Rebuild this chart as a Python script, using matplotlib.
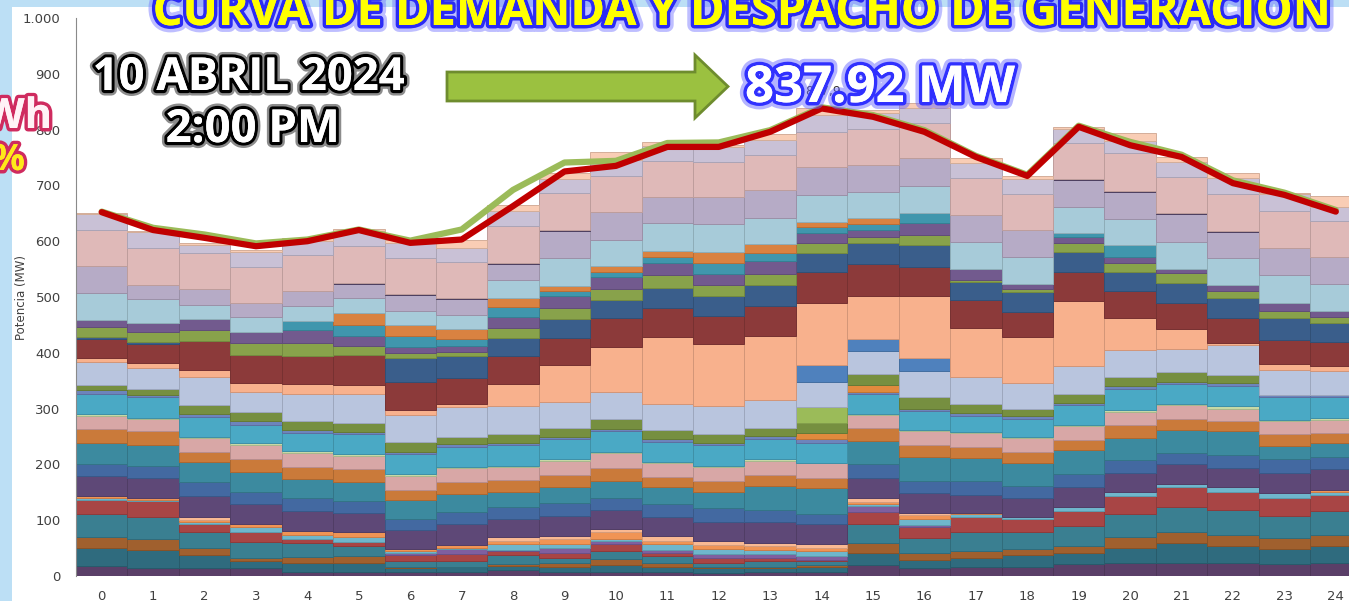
import matplotlib
matplotlib.use("Agg")
import matplotlib.pyplot as plt
import matplotlib.patheffects as pe
from matplotlib.colors import to_rgb
from matplotlib.patches import Rectangle, Polygon
from matplotlib.ticker import FuncFormatter
import numpy as np

# horas del dia (0-24)
horas = list(range(25))

# despacho por capa, de abajo hacia arriba (MW)
morado_base = [18, 14, 15, 15, 8, 8, 8, 8, 10, 8, 8, 8, 6, 8, 8, 20, 14, 17, 17, 21, 23, 23, 23, 21, 23]
verde_azul_osc = [32, 33, 23, 12, 15, 16, 6, 9, 8, 9, 12, 9, 8, 7, 9, 21, 15, 15, 21, 21, 28, 36, 31, 27, 31]
cafe = [20, 19, 13, 5, 11, 12, 3, 0, 3, 7, 10, 6, 2, 2, 2, 18, 12, 12, 10, 12, 18, 20, 19, 20, 19]
verde_azul = [42, 39, 27, 29, 25, 18, 10, 9, 17, 9, 15, 13, 7, 9, 7, 34, 27, 35, 30, 36, 43, 44, 46, 40, 44]
rojo = [25, 29, 16, 18, 7, 7, 11, 13, 6, 8, 12, 6, 9, 6, 3, 22, 19, 26, 24, 26, 32, 36, 32, 32, 29]
lila = [0, 0, 0, 0, 0, 0, 3, 9, 3, 9, 5, 5, 7, 7, 7, 10, 5, 0, 0, 0, 0, 0, 0, 0, 0]
celeste = [3, 3, 3, 8, 7, 9, 4, 2, 10, 7, 4, 10, 9, 8, 8, 4, 10, 6, 4, 8, 7, 6, 8, 8, 5]
naranja_claro = [3, 3, 4, 7, 8, 9, 3, 6, 6, 9, 12, 6, 8, 7, 6, 3, 7, 2, 0, 0, 0, 0, 0, 0, 4]
durazno_bajo = [0, 0, 4, 0, 0, 0, 0, 0, 6, 6, 7, 9, 7, 6, 7, 8, 4, 0, 0, 0, 0, 0, 0, 0, 0]
morado = [36, 36, 38, 35, 35, 34, 34, 37, 34, 36, 33, 34, 33, 36, 37, 35, 36, 33, 34, 35, 33, 35, 34, 36, 37]
azul = [21, 22, 26, 22, 23, 21, 21, 22, 20, 22, 22, 23, 25, 23, 18, 25, 22, 24, 22, 24, 23, 20, 24, 25, 21]
verde_azul_2 = [38, 37, 36, 36, 35, 35, 33, 32, 28, 30, 30, 30, 30, 42, 45, 42, 42, 42, 41, 42, 40, 42, 42, 24, 26]
naranja = [25, 24, 18, 22, 22, 22, 19, 22, 21, 21, 24, 18, 19, 20, 18, 23, 22, 19, 20, 19, 24, 19, 19, 21, 18]
rosa = [24, 22, 24, 26, 25, 24, 24, 24, 24, 25, 26, 25, 26, 25, 27, 24, 24, 25, 24, 24, 23, 25, 22, 23, 23]
verde_palido = [3, 3, 3, 3, 3, 3, 3, 3, 2, 3, 3, 3, 2, 3, 1, 2, 3, 2, 3, 2, 3, 2, 4, 3, 3]
cian = [37, 37, 35, 33, 32, 36, 36, 36, 37, 36, 37, 36, 37, 36, 36, 36, 34, 29, 31, 36, 39, 36, 37, 40, 38]
azul_fino = [6, 3, 5, 6, 6, 4, 5, 5, 4, 4, 4, 4, 4, 6, 6, 3, 4, 5, 5, 4, 4, 4, 5, 4, 3]
naranja_2 = [0, 0, 0, 0, 0, 0, 0, 0, 0, 0, 0, 0, 0, 0, 12, 13, 0, 0, 0, 0, 0, 0, 0, 0, 0]
oliva = [9, 12, 16, 17, 15, 17, 17, 13, 15, 16, 17, 17, 15, 15, 18, 19, 20, 17, 14, 17, 17, 17, 15, 0, 0]
verde_lima = [0, 0, 0, 0, 0, 0, 0, 0, 0, 0, 0, 0, 0, 0, 28, 0, 0, 0, 0, 0, 0, 0, 0, 0, 0]
gris_azul = [42, 36, 51, 36, 50, 51, 49, 52, 51, 46, 48, 47, 51, 49, 45, 42, 48, 47, 46, 50, 48, 41, 53, 46, 44]
azul_medio = [0, 0, 0, 0, 0, 0, 0, 0, 0, 0, 0, 0, 0, 0, 30, 20, 22, 0, 0, 0, 0, 0, 0, 0, 0]
solar = [6, 10, 13, 16, 17, 16, 9, 7, 39, 68, 82, 120, 110, 115, 111, 78, 111, 88, 82, 116, 57, 36, 4, 10, 9]
rojo_osc = [34, 34, 51, 50, 51, 54, 50, 45, 50, 48, 52, 51, 51, 53, 55, 57, 53, 51, 46, 52, 48, 47, 44, 43, 43]
azul_marino = [4, 4, 0, 0, 0, 0, 42, 40, 33, 33, 32, 37, 35, 39, 34, 37, 39, 31, 35, 36, 35, 36, 36, 39, 34]
verde = [18, 18, 20, 21, 22, 17, 9, 8, 18, 20, 19, 22, 21, 20, 19, 11, 18, 5, 6, 15, 16, 18, 12, 13, 11]
morado_2 = [13, 15, 19, 20, 23, 17, 12, 10, 19, 21, 21, 22, 19, 23, 18, 13, 21, 20, 8, 11, 10, 8, 11, 15, 10]
turquesa = [0, 0, 0, 0, 17, 20, 20, 12, 18, 10, 10, 11, 20, 13, 11, 11, 19, 0, 0, 7, 22, 0, 0, 0, 0]
naranja_3 = [0, 0, 0, 0, 0, 21, 19, 18, 17, 9, 11, 10, 20, 17, 9, 10, 0, 0, 0, 0, 0, 0, 0, 0, 0]
azul_claro = [49, 43, 26, 28, 27, 27, 25, 26, 31, 49, 47, 50, 49, 47, 48, 48, 48, 48, 49, 48, 47, 48, 48, 49, 48]
lavanda = [48, 25, 28, 25, 26, 25, 29, 28, 30, 49, 50, 48, 49, 50, 50, 48, 50, 48, 48, 48, 49, 50, 48, 48, 49]
linea_osc = [0, 0, 0, 0, 0, 1.5, 1.5, 1.5, 1.5, 1.5, 0, 0, 0, 0, 0, 0, 0, 0, 0, 1.5, 1.5, 1.5, 1.5, 1.5, 0]
rosa_claro = [64, 66, 64, 64, 65, 67, 64, 65, 66, 66, 64, 64, 63, 63, 63, 64, 62, 66, 64, 64, 67, 65, 66, 66, 64]
lavanda_clara = [29, 29, 16, 27, 25, 27, 28, 26, 27, 26, 29, 27, 27, 26, 30, 28, 27, 27, 27, 26, 22, 27, 28, 30, 26]
durazno_alto = [2, 2, 2, 4, 5, 4, 4, 14, 11, 10, 13, 6, 4, 12, 13, 6, 9, 9, 6, 3, 15, 8, 9, 2, 19]

# curvas (MW)
demanda = [652, 620, 606, 591, 600, 620, 597, 603, 663, 725, 735, 769, 769, 796, 837.92,
           823, 796, 751, 717, 805, 772, 751, 704, 683, 653]
generacion = [653, 624, 612, 596, 603, 621, 601, 621, 692, 741, 744, 776, 777, 799, 840,
              826, 799, 753, 719, 807, 778, 755, 709, 687, 656]

capas = [
    (morado_base, '#5a3f68'), (verde_azul_osc, '#2f6b7e'), (cafe, '#a0602e'),
    (verde_azul, '#3a7f91'), (rojo, '#a84545'), (lila, '#7f5f9f'),
    (celeste, '#6fb6cc'), (naranja_claro, '#f09455'), (durazno_bajo, '#f9b993'),
    (morado, '#5e4877'), (azul, '#4369a1'), (verde_azul_2, '#3c8a9f'),
    (naranja, '#ca7a3a'), (rosa, '#d8a7a6'), (verde_palido, '#c6d9a6'),
    (cian, '#4aa9c5'), (azul_fino, '#6d84bc'), (naranja_2, '#e08a3d'),
    (oliva, '#768f40'), (verde_lima, '#9bbb59'), (gris_azul, '#b9c5de'),
    (azul_medio, '#4f81bd'), (solar, '#f8b18d'), (rojo_osc, '#8c3a3a'),
    (azul_marino, '#3a5e8b'), (verde, '#88a24b'), (morado_2, '#725a8e'),
    (turquesa, '#4096ad'), (naranja_3, '#d98241'), (azul_claro, '#a7cbd9'),
    (lavanda, '#b6abc6'), (linea_osc, '#5a4a70'), (rosa_claro, '#dfb9b8'),
    (lavanda_clara, '#c9c1d6'), (durazno_alto, '#f9cdb5'),
]

W_PX, H_PX = 1349, 601
fig = plt.figure(figsize=(W_PX / 100, H_PX / 100), dpi=100)
fig.patch.set_facecolor('#bcdff5')


def fx(x):
    return x / W_PX


def fy(y):
    return 1 - y / H_PX


fig.add_artist(Rectangle((fx(12), 0), 1, fy(7), transform=fig.transFigure,
                         facecolor='white', edgecolor='none', zorder=-5))

ax = fig.add_axes([fx(76), fy(576), 1 - fx(76), fy(18) - fy(576)])
ax.patch.set_alpha(0)

bottom = np.zeros(len(horas))
x = np.array(horas)
for vals, col in capas:
    v = np.array(vals, dtype=float)
    m = v > 0
    ec = tuple(c * 0.85 for c in to_rgb(col))
    ax.bar(x[m], v[m], bottom=bottom[m], width=1.0, color=col,
           edgecolor=ec, linewidth=0.7, zorder=2)
    bottom += v

ax.plot(horas, generacion, color='#9bbb59', lw=4.5, zorder=4,
        solid_joinstyle='round', solid_capstyle='round')
ax.plot(horas, demanda, color='#c00000', lw=4.5, zorder=5,
        solid_joinstyle='round', solid_capstyle='round')

ax.set_xlim(-0.5, -0.5 + (W_PX - 76) / 51.42)
ax.set_ylim(0, 1000)
ax.set_xticks(horas)
ax.set_yticks(range(0, 1001, 100))
ax.yaxis.set_major_formatter(FuncFormatter(lambda v, p: f'{int(v):,}'.replace(',', '.')))
ax.tick_params(axis='y', length=0, pad=11, labelsize=9.5, labelcolor='#404040')
ax.tick_params(axis='x', length=0, pad=10, labelsize=9.5, labelcolor='#404040')
for s in ['top', 'right', 'bottom']:
    ax.spines[s].set_visible(False)
ax.spines['left'].set_color('#8a8a8a')
ax.spines['left'].set_zorder(6)

fig.text(fx(22), fy(297), 'Potencia (MW)', rotation=90, ha='center', va='center',
         fontsize=8.5, color='#404040')

# textos sobrepuestos
fuente = 'Open Sans'
titulo = fig.text(fx(743), fy(25), 'CURVA DE DEMANDA Y DESPACHO DE GENERACIÓN',
                  ha='center', va='baseline', fontsize=30, family=fuente, weight='bold',
                  color='#ffff00', zorder=10,
                  path_effects=[pe.withStroke(linewidth=10, foreground='#7070ff', alpha=0.45),
                                pe.withStroke(linewidth=5, foreground='#2b2bf5'), pe.Normal()])

contorno_negro = [pe.withStroke(linewidth=8, foreground='black', alpha=0.45),
                  pe.withStroke(linewidth=4.5, foreground='black'), pe.Normal()]
fecha = fig.text(fx(249), fy(90), '10 ABRIL 2024', ha='center', va='baseline',
                 fontsize=30, family=fuente, weight='bold', color='white', zorder=10,
                 path_effects=contorno_negro)
hora = fig.text(fx(253), fy(142), '2:00 PM', ha='center', va='baseline',
                fontsize=30, family=fuente, weight='bold', color='white', zorder=10,
                path_effects=contorno_negro)

fig.text(fx(805), fy(95), '837,9', fontsize=9, color='#303030', zorder=6)
valor = fig.text(fx(745), fy(102), '837.92 MW', ha='left', va='baseline',
                 fontsize=34, family=fuente, weight='bold', color='white', zorder=10,
                 path_effects=[pe.withStroke(linewidth=10, foreground='#6a6aff', alpha=0.5),
                               pe.withStroke(linewidth=5, foreground='#3030ff'), pe.Normal()])

borde_rojo = [pe.withStroke(linewidth=5, foreground='#cf2b5f'), pe.Normal()]
fig.text(fx(52), fy(128), 'Wh', ha='right', va='baseline', fontsize=30, family=fuente,
         weight='bold', color='#fff2f6', zorder=10, path_effects=borde_rojo)
fig.text(fx(25), fy(170), '%', ha='right', va='baseline', fontsize=26, family=fuente,
         weight='bold', color='#ffe81a', zorder=10, path_effects=borde_rojo)

flecha = [(447, 72), (695, 72), (695, 55), (728, 86.5), (695, 118), (695, 101), (447, 101)]
fig.add_artist(Polygon([(fx(a), fy(b)) for a, b in flecha], closed=True,
                       transform=fig.transFigure, facecolor='#9bc140',
                       edgecolor='#6e8c2e', linewidth=2, zorder=9))


def ajustar(txt, ancho):
    r = fig.canvas.get_renderer()
    bb = txt.get_window_extent(renderer=r)
    txt.set_fontsize(txt.get_fontsize() * ancho / bb.width)


fig.canvas.draw()
ajustar(titulo, 1177)
ajustar(fecha, 312)
hora.set_fontsize(fecha.get_fontsize())
ajustar(valor, 270)

fig.savefig('out.png', dpi=100, facecolor=fig.get_facecolor())
